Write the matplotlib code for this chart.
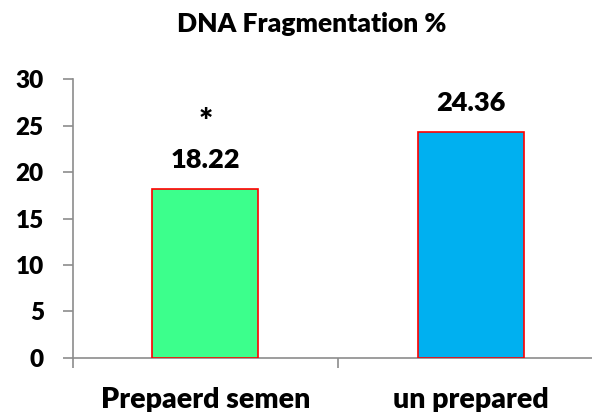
import matplotlib
matplotlib.use("Agg")
import matplotlib.pyplot as plt

# DNA fragmentation in prepared vs unprepared semen samples
groups = ["Prepaerd semen", "un prepared"]
frag_pct = [18.22, 24.36]
bar_colors = ["#3CFF8C", "#00B0F0"]
marks = ["*", ""]
y_ticks = [0, 5, 10, 15, 20, 25, 30]

plt.rcParams["font.family"] = ["Lato", "DejaVu Sans"]
W = "heavy"

fig = plt.figure(figsize=(5.92, 4.12), dpi=100)
ax = fig.add_axes([0.1233, 0.1318, 0.8953, 0.6757])

pos = list(range(len(groups)))
ax.bar(pos, frag_pct, width=0.4, color=bar_colors, edgecolor="red", linewidth=1.2, zorder=3)

for x, v, m in zip(pos, frag_pct, marks):
    ax.annotate(f"{v:.2f}", (x, v), xytext=(0, 14.6), textcoords="offset points",
                ha="center", va="baseline", fontsize=19.5, fontweight=W)
    if m:
        ax.annotate(m, (x, v), xytext=(0, 40), textcoords="offset points",
                    ha="center", va="baseline", fontsize=24, fontweight=W)

ax.set_xlim(-0.5, 1.5)
ax.set_ylim(0, 30)
ax.set_yticks(y_ticks)
ax.set_yticklabels([str(t) for t in y_ticks], fontsize=17.5, fontweight=W)

# category boundaries get the tick marks, names sit under the bars
ax.set_xticks([-0.5, 0.5, 1.5])
ax.set_xticklabels([])
ax.set_xticks(pos, minor=True)
ax.set_xticklabels(groups, minor=True, fontsize=20.5, fontweight=W)
ax.tick_params(axis="x", which="minor", length=0, pad=21)
ax.tick_params(axis="x", which="major", length=7, color="#8c8c8c", width=1.2)
ax.tick_params(axis="y", length=7, color="#8c8c8c", width=1.2, pad=14)

for s in ["top", "right"]:
    ax.spines[s].set_visible(False)
for s in ["left", "bottom"]:
    ax.spines[s].set_color("#8c8c8c")
    ax.spines[s].set_linewidth(1.2)

fig.text(0.5265, 0.923, "DNA Fragmentation %", ha="center", va="baseline",
         fontsize=19, fontweight=W)

fig.savefig("out.png", dpi=100)
